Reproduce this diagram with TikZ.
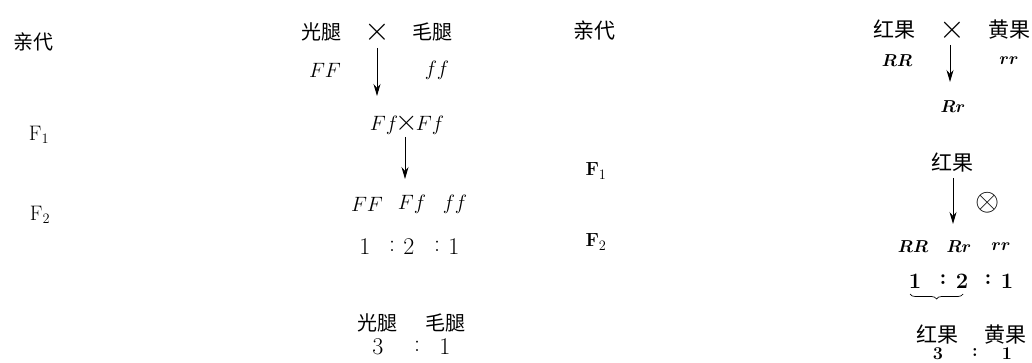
\documentclass[tikz,border=0pt]{standalone}
\usepackage{fontspec}
\newfontfamily\cjk{Noto Sans CJK SC}
\usetikzlibrary{arrows.meta,decorations.pathreplacing}
\begin{document}
\begin{tikzpicture}[x=1pt,y=-1pt,
  every node/.style={inner sep=0pt, outer sep=0pt},
  cn/.style={font=\cjk\fontsize{20}{20}\selectfont},
  cnb/.style={font=\cjk\fontsize{21}{21}\selectfont},
  gt/.style={font=\fontsize{21}{21}\selectfont},
  gtb/.style={font=\fontsize{18}{18}\selectfont\boldmath},
  num/.style={font=\fontsize{24}{24}\selectfont},
  numb/.style={font=\fontsize{22}{22}\selectfont\bfseries},
  numbs/.style={font=\fontsize{18}{18}\selectfont\bfseries},
  sym/.style={font=\fontsize{20}{20}\selectfont},
  gen/.style={font=\fontsize{21}{21}\selectfont},
  genb/.style={font=\fontsize{19}{19}\selectfont\bfseries},
  arr/.style={-{Stealth[length=12pt,width=7pt]}, line width=0.9pt}]
\useasboundingbox (0,0) rectangle (1032,363);
% ---------- left panel ----------
\node[cn] (lP) at (33,42) {亲代};
\node[gen] (lF1) at (39,135) {F$_1$};
\node[gen] (lF2) at (40,215) {F$_2$};
\node[cn] (lA) at (321,32) {光腿};
\node[sym] (lX) at (377,32) {\scalebox{1.6}{$\times$}};
\node[cn] (lB) at (432,32) {毛腿};
\node[gt] (lAg) at (325,70) {$FF$};
\node[gt] (lBg) at (437,70) {$ff$};
\coordinate (la1) at (377,48);
\coordinate (la2) at (377,96);
\draw[arr] (la1) -- (la2);
\node[gt] (lF1g) at (407,124) {$Ff\mkern-2mu{\scalebox{1.4}{$\times$}}\mkern-2mu Ff$};
\coordinate (lb1) at (405,137);
\coordinate (lb2) at (405,179);
\draw[arr] (lb1) -- (lb2);
\node[gt] (lg1) at (367,204) {$FF$};
\node[gt] (lg2) at (412,204) {$Ff$};
\node[gt] (lg3) at (455,204) {$ff$};
\node[num] (ln1) at (365,247) {1};
\node[num] (lc1) at (392,246) {:};
\node[num] (ln2) at (409,247) {2};
\node[num] (lc2) at (437,246) {:};
\node[num] (ln3) at (454,247) {1};
\node[cn] (lpA) at (377,323) {光腿};
\node[cn] (lpB) at (445,323) {毛腿};
\node[num] (lr1) at (378,347) {3};
\node[num] (lrc) at (417,346) {:};
\node[num] (lr2) at (445,347) {1};
% ---------- right panel ----------
\node[cnb] (rP) at (594,31) {亲代};
\node[genb] (rF1) at (596,171) {F$_1$};
\node[genb] (rF2) at (596,242) {F$_2$};
\node[cnb] (rA) at (894,30) {红果};
\node[sym] (rX) at (952,30) {\scalebox{1.6}{$\times$}};
\node[cnb] (rB) at (1009,30) {黄果};
\node[gtb] (rAg) at (897,61) {$RR$};
\node[gtb] (rBg) at (1009,61) {$rr$};
\coordinate (ra1) at (950,45);
\coordinate (ra2) at (950,82);
\draw[arr] (ra1) -- (ra2);
\node[gtb] (rF1g) at (953,107) {$Rr$};
\node[cnb] (rF1p) at (952,163) {红果};
\coordinate (rb1) at (953,178);
\coordinate (rb2) at (953,224);
\draw[arr] (rb1) -- (rb2);
\node[sym] (rself) at (988,203) {\scalebox{1.5}{$\otimes$}};
\node[gtb] (rg1) at (913,247) {$RR$};
\node[gtb] (rg2) at (959,247) {$Rr$};
\node[gtb] (rg3) at (1001,247) {$rr$};
\node[numb] (rn1) at (915,281) {1};
\node[numb] (rc1) at (943,280) {:};
\node[numb] (rn2) at (962,281) {2};
\node[numb] (rc2) at (988,280) {:};
\node[numb] (rn3) at (1007,281) {1};
\coordinate (rbr1) at (910,294);
\coordinate (rbr2) at (963,294);
\draw[decorate, decoration={brace, mirror, amplitude=5pt}, line width=0.7pt] (rbr1) -- (rbr2);
\node[cnb] (rpA) at (937,335) {红果};
\node[cnb] (rpB) at (1005,335) {黄果};
\node[numbs] (rr1) at (938,354) {3};
\node[numbs] (rrc) at (975,353) {:};
\node[numbs] (rr2) at (1007,354) {1};
\end{tikzpicture}
\end{document}
